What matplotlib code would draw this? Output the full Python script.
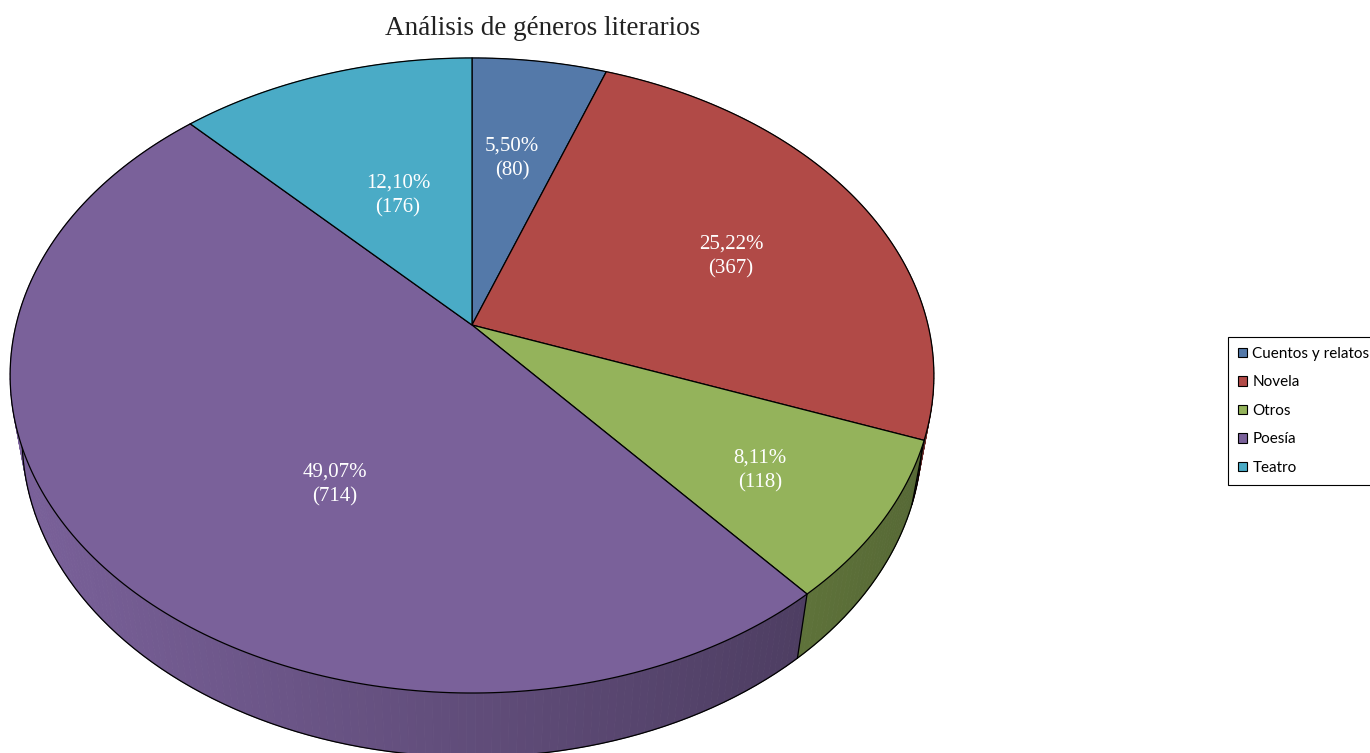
import numpy as np
import matplotlib
matplotlib.use("Agg")
from matplotlib import pyplot as plt
from matplotlib.patches import Polygon, Patch
from matplotlib.colors import to_rgb

generos = ["Cuentos y relatos", "Novela", "Otros", "Poesía", "Teatro"]
libros = [80, 367, 118, 714, 176]
colores = ["#5479a9", "#b14a47", "#94b35b", "#7a619a", "#4aabc6"]
titulo = "Análisis de géneros literarios"

# where the data labels sit (pixels)
label_pos = [(512, 159), (731, 257), (760, 471), (335, 485), (398, 196)]

# perspective of the 3d pie, in pixels
CX, CY = 472, 325
A, B, K = 456, 309.5, 0.159
D, E = 0.026, 65


def top(t):
    u, w = np.sin(t), np.cos(t)
    s = 1 + K * w
    return CX + A * u / s, CY - B * w / s


def bottom(t):
    u, w = np.sin(t), np.cos(t)
    s = 1 + K * w + D
    return CX + A * u / s, CY + (E - B * w) / s


def shade(color, x):
    f = 1.0 - 0.42 * (x - 10) / 925
    return tuple(min(1, c * f) for c in to_rgb(color))


def main():
    fig = plt.figure(figsize=(13.7, 7.53), dpi=100)
    ax = fig.add_axes([0, 0, 1, 1])
    ax.set_xlim(0, 1370)
    ax.set_ylim(753, 0)
    ax.axis("off")

    total = sum(libros)
    fracs = np.array(libros) / total
    edges = np.concatenate([[0], np.cumsum(fracs)]) * 2 * np.pi

    # side of the pie, drawn back to front
    segs = []
    for i in range(len(libros)):
        t = np.linspace(edges[i], edges[i + 1], max(3, int(fracs[i] * 400)))
        for t0, t1 in zip(t[:-1], t[1:]):
            x0, y0 = top(t0)
            x1, y1 = top(t1)
            bx0, by0 = bottom(t0)
            bx1, by1 = bottom(t1)
            depth = np.cos((t0 + t1) / 2)
            segs.append((depth, [(x0, y0), (x1, y1), (bx1, by1), (bx0, by0)],
                         shade(colores[i], (x0 + x1) / 2)))
    segs.sort(key=lambda s: -s[0])
    for _, pts, c in segs:
        ax.add_patch(Polygon(pts, closed=True, facecolor=c, edgecolor=c,
                             linewidth=0.6, zorder=1))

    # outline of the bottom and the slice edges on the side
    tt = np.linspace(0, 2 * np.pi, 720)
    bx, by = bottom(tt)
    ax.plot(bx, by, color="black", lw=0.9, zorder=2)
    for e in edges[:-1]:
        x0, y0 = top(e)
        x1, y1 = bottom(e)
        ax.plot([x0, x1], [y0, y1], color="black", lw=0.9, zorder=2)

    # top faces
    for i in range(len(libros)):
        t = np.linspace(edges[i], edges[i + 1], max(3, int(fracs[i] * 400)))
        x, y = top(t)
        pts = [(CX, CY)] + list(zip(x, y))
        ax.add_patch(Polygon(pts, closed=True, facecolor=colores[i],
                             edgecolor="black", linewidth=0.9, zorder=3))

    # data labels
    for i, (x, y) in enumerate(label_pos):
        pct = f"{fracs[i] * 100:.2f}".replace(".", ",")
        ax.text(x, y, f"{pct}%\n({libros[i]})", color="white", ha="center",
                va="center", family="Liberation Serif", fontsize=15,
                linespacing=1.4, zorder=4)

    ax.text(543, 28, titulo, ha="center", va="center",
            family="Liberation Serif", fontsize=19.5, color="#222222")

    handles = [Patch(facecolor=c, edgecolor="black", linewidth=0.8)
               for c in colores]
    leg = fig.legend(handles, generos, loc="upper left",
                     bbox_to_anchor=(1228 / 1370, 1 - 337 / 753),
                     borderaxespad=0, fancybox=False, edgecolor="black",
                     framealpha=1, prop={"family": "Lato", "size": 11},
                     handlelength=0.6, handleheight=0.6, handletextpad=0.35,
                     labelspacing=0.95, borderpad=0.65)
    leg.get_frame().set_linewidth(0.8)

    fig.savefig("out.png", dpi=100)


if __name__ == "__main__":
    main()
